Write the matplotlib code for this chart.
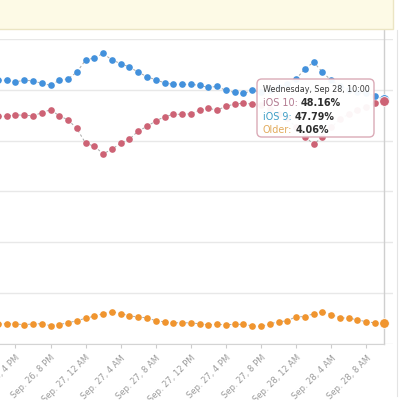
import numpy as np
import pandas as pd
import matplotlib
matplotlib.use("Agg")
import matplotlib.pyplot as plt
import matplotlib.dates as mdates
from matplotlib.patches import FancyBboxPatch, Rectangle
from matplotlib.lines import Line2D

# hourly share of iOS versions (%), Sep 26 2 PM -> Sep 28 10 AM
times = pd.date_range("2016-09-26 14:00", periods=45, freq="h")

ios10 = [51.9, 51.9, 51.6, 51.9, 51.8, 51.3, 50.9, 51.9, 52.2, 53.5,
         55.9, 56.3, 57.2, 55.9, 55.2, 54.5, 53.5, 52.6, 52.0, 51.4,
         51.1, 51.1, 51.1, 50.9, 50.5, 50.7, 49.9, 49.5, 49.3, 49.9,
         49.6, 50.0, 50.6, 51.2, 52.2, 54.1, 55.5, 53.5, 51.9, 50.8,
         50.0, 49.5, 49.3, 48.9, 48.16]
ios9 = [44.8, 44.8, 45.1, 45.0, 44.9, 45.5, 46.1, 44.9, 44.1, 42.4,
        39.5, 38.9, 37.4, 38.3, 39.5, 40.3, 41.9, 42.8, 43.9, 44.7,
        45.2, 45.2, 45.3, 46.0, 46.4, 46.0, 46.8, 47.2, 47.4, 47.2,
        47.0, 46.2, 45.3, 44.4, 42.6, 40.8, 39.3, 40.7, 42.6, 44.2,
        45.2, 46.0, 46.6, 47.5, 47.79]
older = [3.9, 3.9, 3.9, 3.7, 3.9, 3.9, 3.55, 3.75, 4.1, 4.5,
         5.0, 5.4, 5.9, 6.3, 5.9, 5.5, 5.2, 5.1, 4.5, 4.3,
         4.1, 4.1, 4.1, 3.9, 3.7, 3.8, 3.7, 3.8, 3.8, 3.5,
         3.4, 3.9, 4.3, 4.5, 5.3, 5.3, 5.9, 6.3, 5.7, 5.1,
         5.0, 4.7, 4.3, 4.1, 4.06]

tick_times = pd.date_range("2016-09-26 16:00", "2016-09-28 08:00", freq="4h")
tick_labels = ["Sep. 26, 4 PM", "Sep. 26, 8 PM", "Sep. 27, 12 AM", "Sep. 27, 4 AM",
               "Sep. 27, 8 AM", "Sep. 27, 12 PM", "Sep. 27, 4 PM", "Sep. 27, 8 PM",
               "Sep. 28, 12 AM", "Sep. 28, 4 AM", "Sep. 28, 8 AM"]

series = [
    (ios10, "#4391dc"),
    (ios9, "#cd6375"),
    (older, "#f0952f"),
]

plt.rcParams["font.family"] = ["DejaVu Sans"]

fig = plt.figure(figsize=(4, 4), dpi=100)
ax = fig.add_axes([0.0, 0.141, 0.9825, 0.761])

for vals, col in series:
    ax.plot(times, vals, color="#a8a8a8", lw=0.7, ls=(0, (2.5, 2.5)), zorder=2, clip_on=False)
    ax.plot(times, vals, ls="none", marker="o", ms=4.8, mfc=col, mec="none", zorder=3, clip_on=False)
    ax.plot(times[-1:], vals[-1:], ls="none", marker="o", ms=7, mfc=col, mec="white",
            mew=0.6, zorder=4, clip_on=False)

ax.set_ylim(0, 60)
ax.set_yticks(np.arange(0, 61, 10))
ax.yaxis.grid(True, color="#e8e8e8", lw=1)
ax.set_axisbelow(True)
ax.tick_params(axis="y", left=False, labelleft=False)

ax.set_xlim(times[0] + pd.Timedelta(hours=0.24), times[0] + pd.Timedelta(hours=45.05))
ax.set_xticks(tick_times)
ax.set_xticklabels(tick_labels, rotation=45, ha="right", va="top",
                   rotation_mode="anchor", fontsize=6, color="#9a9a9a")
ax.tick_params(axis="x", length=3, color="#cccccc", pad=4)

for s in ["top", "left", "right"]:
    ax.spines[s].set_visible(False)
ax.spines["bottom"].set_color("#d4d4d4")
ax.spines["bottom"].set_bounds(ax.get_xlim()[0], mdates.date2num(times[-1]))

# hover crosshair at the last point
ax.axvline(times[-1], ymin=0, ymax=1.03, color="#cfcfcf", lw=1, zorder=1, clip_on=False)

# yellow banner at top
fig.patches.append(Rectangle((-0.05, 0.928), 1.033, 0.1, transform=fig.transFigure,
                             facecolor="#fdfae6", edgecolor="#ebe5c3", lw=1, zorder=0))
fig.add_artist(Line2D([0.993, 0.993], [0.01, 0.925], color="#e4e4e4", lw=0.8))

# tooltip
tip = FancyBboxPatch((0.6425, 0.6575), 0.2925, 0.145, boxstyle="round,pad=0,rounding_size=0.012",
                     transform=fig.transFigure, facecolor="white", alpha=0.95,
                     edgecolor="#d9a6b3", lw=1, zorder=10)
fig.patches.append(tip)
fig.text(0.657, 0.775, "Wednesday, Sep 28, 10:00", fontsize=5.8, color="#3a3a3a",
         va="center", ha="left", zorder=11)
rows = [("iOS 10:", "48.16%", "#b27a90", 0.734),
        ("iOS 9:", "47.79%", "#3f9ec6", 0.700),
        ("Older:", "4.06%", "#e2ab5c", 0.667)]
labels = []
for lab, val, col, yy in rows:
    labels.append(fig.text(0.657, yy, lab, fontsize=6.9, color=col,
                           va="baseline", ha="left", zorder=11))

fig.canvas.draw()
inv = fig.transFigure.inverted()
for t, (lab, val, col, yy) in zip(labels, rows):
    x_end = inv.transform(t.get_window_extent().get_points())[1, 0]
    fig.text(x_end + 0.008, yy, val, fontsize=6.9, color="#2e2e2e", fontweight="bold",
             va="baseline", ha="left", zorder=11)

fig.savefig("out.png", dpi=100)
